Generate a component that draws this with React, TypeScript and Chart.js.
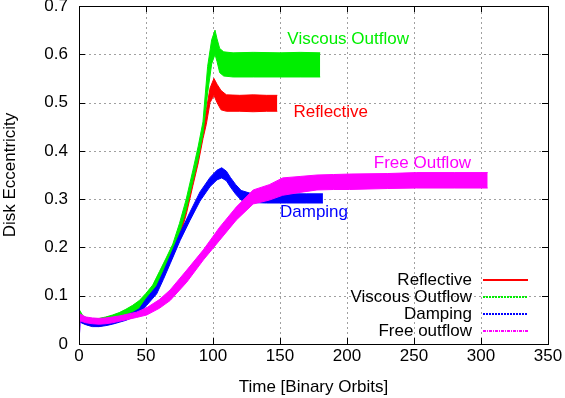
import React, { useEffect, useRef } from "react";
import { Chart, registerables } from "chart.js";

Chart.register(...registerables);

// ---- data ----
const xTicks = [0, 50, 100, 150, 200, 250, 300, 350];
const yTicks = [0, 0.1, 0.2, 0.3, 0.4, 0.5, 0.6, 0.7];

const seriesNames = ["Reflective", "Viscous Outflow", "Damping", "Free outflow"];
const inlineLabels = ["Reflective", "Viscous Outflow", "Damping", "Free Outflow"];

// Reflective (red) band: time, upper envelope, lower envelope
const reflectiveT = [0, 3, 8, 15, 20, 25, 30, 35, 40, 45, 50, 55, 60, 65, 70, 75, 80, 85, 89, 92.5, 95, 97.8, 100.7, 103, 106, 110, 120, 130, 140, 148];
const reflectiveHi = [0.068, 0.056, 0.052, 0.052, 0.055, 0.058, 0.063, 0.07, 0.078, 0.088, 0.1, 0.117, 0.145, 0.172, 0.2, 0.24, 0.288, 0.348, 0.395, 0.445, 0.485, 0.53, 0.55, 0.538, 0.525, 0.516, 0.515, 0.516, 0.515, 0.515];
const reflectiveLo = [0.05, 0.043, 0.038, 0.036, 0.04, 0.043, 0.048, 0.053, 0.06, 0.068, 0.082, 0.098, 0.125, 0.152, 0.182, 0.22, 0.268, 0.328, 0.375, 0.425, 0.455, 0.5, 0.515, 0.5, 0.485, 0.482, 0.482, 0.481, 0.482, 0.482];

// Viscous Outflow (green)
const viscousT = [0, 3, 8, 15, 20, 25, 30, 35, 40, 45, 50, 55, 60, 65, 70, 75, 80, 85, 89, 92.5, 96, 99, 101.5, 103, 105, 108, 115, 130, 150, 165, 180];
const viscousHi = [0.072, 0.058, 0.052, 0.053, 0.056, 0.06, 0.065, 0.072, 0.08, 0.09, 0.105, 0.122, 0.15, 0.178, 0.207, 0.25, 0.3, 0.36, 0.41, 0.46, 0.575, 0.63, 0.65, 0.632, 0.612, 0.605, 0.603, 0.604, 0.603, 0.604, 0.603];
const viscousLo = [0.052, 0.044, 0.04, 0.04, 0.043, 0.047, 0.051, 0.056, 0.064, 0.073, 0.088, 0.105, 0.132, 0.16, 0.19, 0.23, 0.278, 0.338, 0.385, 0.435, 0.52, 0.58, 0.6, 0.585, 0.562, 0.555, 0.553, 0.553, 0.553, 0.553, 0.553];

// Damping (blue)
const dampingT = [0, 0.8, 5, 10, 15, 20, 25, 30, 35, 40, 45, 50.5, 58, 63, 68, 75.4, 82.8, 90.3, 97.8, 103, 106.5, 110, 113, 117, 121, 128, 140, 155, 170, 182];
const dampingHi = [0.065, 0.058, 0.05, 0.047, 0.048, 0.05, 0.053, 0.056, 0.06, 0.065, 0.073, 0.095, 0.12, 0.15, 0.182, 0.23, 0.273, 0.315, 0.345, 0.36, 0.365, 0.358, 0.345, 0.33, 0.318, 0.312, 0.312, 0.311, 0.311, 0.311];
const dampingLo = [0, 0.045, 0.04, 0.036, 0.036, 0.038, 0.041, 0.045, 0.049, 0.055, 0.062, 0.08, 0.104, 0.134, 0.166, 0.214, 0.256, 0.296, 0.326, 0.34, 0.344, 0.338, 0.325, 0.31, 0.298, 0.293, 0.292, 0.292, 0.292, 0.292];

// Free outflow (magenta)
const freeT = [0, 0.8, 5, 10, 15, 20, 25, 30, 35, 43, 50.5, 60, 68, 80.4, 92.8, 105, 117.5, 130, 142, 152, 165, 177.6, 190, 202, 230, 252, 280, 305];
const freeHi = [0.065, 0.062, 0.056, 0.054, 0.053, 0.054, 0.056, 0.058, 0.061, 0.066, 0.075, 0.092, 0.112, 0.153, 0.195, 0.242, 0.284, 0.319, 0.33, 0.344, 0.347, 0.35, 0.351, 0.352, 0.353, 0.355, 0.355, 0.355];
const freeLo = [0, 0.048, 0.044, 0.042, 0.041, 0.042, 0.044, 0.047, 0.05, 0.055, 0.06, 0.074, 0.09, 0.128, 0.174, 0.215, 0.257, 0.29, 0.298, 0.308, 0.314, 0.319, 0.32, 0.32, 0.322, 0.323, 0.323, 0.323];

// inline label anchors (data coords)
const labelX = [160, 155.5, 150, 220];
const labelY = [0.48, 0.63, 0.273, 0.375];

const COLORS = ["#ff0000", "#00ee00", "#0000ff", "#ff00ff"];
const LEGEND_DASH = [[], [2, 1], [2, 1], [3, 1, 1, 1]];
const FONT = "'Liberation Sans', Arial, Helvetica, sans-serif";

function pts(t: number[], v: number[]) {
  return t.map((x, i) => ({ x, y: v[i] }));
}

export default function App() {
  const ref = useRef<HTMLCanvasElement | null>(null);

  useEffect(() => {
    if (!ref.current) return;
    const bands = [
      [reflectiveT, reflectiveHi, reflectiveLo],
      [viscousT, viscousHi, viscousLo],
      [dampingT, dampingHi, dampingLo],
      [freeT, freeHi, freeLo],
    ];
    const datasets: any[] = [];
    bands.forEach((b, i) => {
      const order = 4 - i;
      datasets.push({
        label: seriesNames[i],
        data: pts(b[0] as number[], b[1] as number[]),
        borderColor: COLORS[i],
        backgroundColor: COLORS[i],
        borderWidth: 1,
        pointRadius: 0,
        tension: 0,
        fill: "+1",
        order,
      });
      datasets.push({
        label: seriesNames[i] + " lo",
        data: pts(b[0] as number[], b[2] as number[]),
        borderColor: COLORS[i],
        backgroundColor: COLORS[i],
        borderWidth: 1,
        pointRadius: 0,
        tension: 0,
        fill: false,
        order,
      });
    });

    const decor = {
      id: "decor",
      beforeDatasetsDraw(chart: any) {
        const ctx = chart.ctx;
        const { left, right, top, bottom } = chart.chartArea;
        const xs = chart.scales.x;
        const ys = chart.scales.y;
        ctx.save();
        ctx.strokeStyle = "#a0a0a0";
        ctx.lineWidth = 1;
        ctx.setLineDash([2, 3]);
        ctx.beginPath();
        xTicks.forEach((v) => {
          const px = Math.round(xs.getPixelForValue(v)) + 0.5;
          ctx.moveTo(px, bottom);
          ctx.lineTo(px, top);
        });
        yTicks.forEach((v) => {
          const py = Math.round(ys.getPixelForValue(v)) + 0.5;
          ctx.moveTo(left, py);
          ctx.lineTo(right, py);
        });
        ctx.stroke();
        ctx.restore();
      },
      afterDraw(chart: any) {
        const ctx = chart.ctx;
        const { left, right, top, bottom } = chart.chartArea;
        const xs = chart.scales.x;
        const ys = chart.scales.y;
        ctx.save();
        // inward tick marks
        ctx.strokeStyle = "#000";
        ctx.lineWidth = 1;
        ctx.setLineDash([]);
        ctx.beginPath();
        xTicks.forEach((v) => {
          const px = Math.round(xs.getPixelForValue(v)) + 0.5;
          ctx.moveTo(px, bottom);
          ctx.lineTo(px, bottom - 6);
          ctx.moveTo(px, top);
          ctx.lineTo(px, top + 6);
        });
        yTicks.forEach((v) => {
          const py = Math.round(ys.getPixelForValue(v)) + 0.5;
          ctx.moveTo(left, py);
          ctx.lineTo(left + 6, py);
          ctx.moveTo(right, py);
          ctx.lineTo(right - 6, py);
        });
        ctx.stroke();
        // frame
        ctx.strokeRect(Math.round(left) + 0.5, Math.round(top) + 0.5, Math.round(right - left), Math.round(bottom - top));

        // inline labels
        ctx.font = "17px " + FONT;
        ctx.textAlign = "left";
        ctx.textBaseline = "middle";
        inlineLabels.forEach((txt, i) => {
          ctx.fillStyle = COLORS[i];
          ctx.fillText(txt, xs.getPixelForValue(labelX[i]), ys.getPixelForValue(labelY[i]));
        });

        // legend
        const rowY = [280, 297, 314, 331];
        ctx.textAlign = "right";
        seriesNames.forEach((txt, i) => {
          ctx.fillStyle = "#000";
          ctx.fillText(txt, 472, rowY[i]);
          ctx.strokeStyle = COLORS[i];
          ctx.lineWidth = 2;
          ctx.setLineDash(LEGEND_DASH[i]);
          ctx.beginPath();
          ctx.moveTo(483, rowY[i]);
          ctx.lineTo(528, rowY[i]);
          ctx.stroke();
        });
        ctx.restore();
      },
    };

    const chart = new Chart(ref.current, {
      type: "line",
      data: { datasets },
      options: {
        animation: false,
        responsive: false,
        maintainAspectRatio: false,
        layout: { padding: { top: 6, right: 17, left: 0, bottom: 0 } },
        plugins: {
          legend: { display: false },
          tooltip: { enabled: false },
        },
        scales: {
          x: {
            type: "linear",
            min: 0,
            max: 350,
            afterFit: (s: any) => {
              s.height = 54;
              s.paddingLeft = 0;
              s.paddingRight = 0;
            },
            afterBuildTicks: (s: any) => {
              s.ticks = xTicks.map((v) => ({ value: v }));
            },
            ticks: {
              color: "#000",
              font: { family: FONT, size: 17 },
              padding: 2,
              maxRotation: 0,
              callback: (v: any) => String(v),
            },
            grid: { display: false, drawTicks: false },
            border: { display: false },
            title: {
              display: true,
              text: "Time [Binary Orbits]",
              color: "#000",
              font: { family: FONT, size: 17 },
              padding: { top: 0, bottom: 0 },
            },
          },
          y: {
            type: "linear",
            min: 0,
            max: 0.7,
            afterFit: (s: any) => {
              s.width = 79;
              s.paddingTop = 0;
              s.paddingBottom = 0;
            },
            afterBuildTicks: (s: any) => {
              s.ticks = yTicks.map((v) => ({ value: v }));
            },
            ticks: {
              color: "#000",
              font: { family: FONT, size: 17 },
              padding: 11,
              callback: (v: any) => (Number(v) === 0 ? "0" : Number(v).toFixed(1)),
            },
            grid: { display: false, drawTicks: false },
            border: { display: false },
            title: {
              display: true,
              text: "Disk Eccentricity",
              color: "#000",
              font: { family: FONT, size: 17 },
              padding: { top: 0, bottom: 0 },
            },
          },
        },
      },
      plugins: [decor],
    });
    return () => chart.destroy();
  }, []);

  return (
    <div style={{ position: "fixed", left: 0, top: 0, width: 565, height: 398, background: "#fff" }}>
      <canvas ref={ref} width={565} height={398} style={{ width: 565, height: 398, display: "block" }} />
    </div>
  );
}
